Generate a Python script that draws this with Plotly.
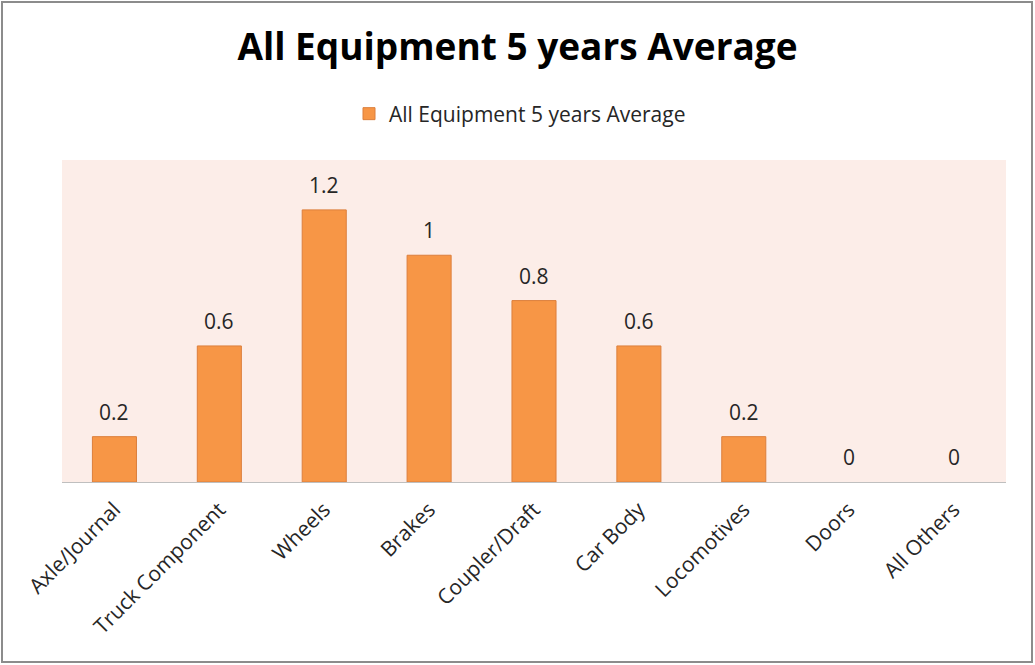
import plotly.graph_objects as go

categories = ["Axle/Journal", "Truck Component", "Wheels", "Brakes", "Coupler/Draft",
              "Car Body", "Locomotives", "Doors", "All Others"]
values = [0.2, 0.6, 1.2, 1, 0.8, 0.6, 0.2, 0, 0]
series_name = "All Equipment 5 years Average"
title_text = "All Equipment 5 years Average"

FONT = "Open Sans"
TXT = "#262626"

fig = go.Figure()
fig.add_trace(go.Bar(
    x=categories, y=values, name=series_name,
    marker=dict(color="#F79646",
                line=dict(color="#DC7F3C", width=[1 if v else 0 for v in values])),
    width=0.42, showlegend=True,
))

for c, v in zip(categories, values):
    fig.add_annotation(x=c, y=v, text=f"{v:g}", showarrow=False,
                       yanchor="middle", yshift=25,
                       font=dict(family=FONT, size=21, color=TXT))

W, H = 1035, 665
L, R, T, B = 62, 29, 160, 183
pw, ph = W - L - R, H - T - B

fig.add_shape(type="rect", xref="paper", yref="paper",
              x0=(2 - L) / pw, x1=(1032 - L) / pw,
              y0=(H - B - 662) / ph, y1=(H - B - 2) / ph,
              line=dict(color="#8C8C8C", width=2), layer="below")

fig.update_layout(
    width=W, height=H,
    margin=dict(l=L, r=R, t=T, b=B, autoexpand=False),
    paper_bgcolor="white", plot_bgcolor="#FCEDE8",
    title=dict(text=f"<b>{title_text}</b>", x=0.5, xanchor="center",
               y=1 - 47 / H, yanchor="middle",
               font=dict(family=FONT, size=37, color="#000000")),
    legend=dict(orientation="h", x=0.5 - 14 / pw, xanchor="center",
                y=1 + (T - 114) / ph, yanchor="middle",
                font=dict(family=FONT, size=21, color=TXT),
                bgcolor="rgba(0,0,0,0)"),
    xaxis=dict(tickangle=-45, showline=True, linecolor="#BFBFBF", linewidth=1,
               ticks="outside", ticklen=6, tickcolor="rgba(0,0,0,0)",
               tickfont=dict(family=FONT, size=21, color=TXT),
               showgrid=False),
    yaxis=dict(range=[0, 1.42], visible=False, showgrid=False, zeroline=False),
    bargap=0.58,
)

fig.write_html("out.html", post_script="document.body.style.margin='0';",
               config={"displayModeBar": False})
